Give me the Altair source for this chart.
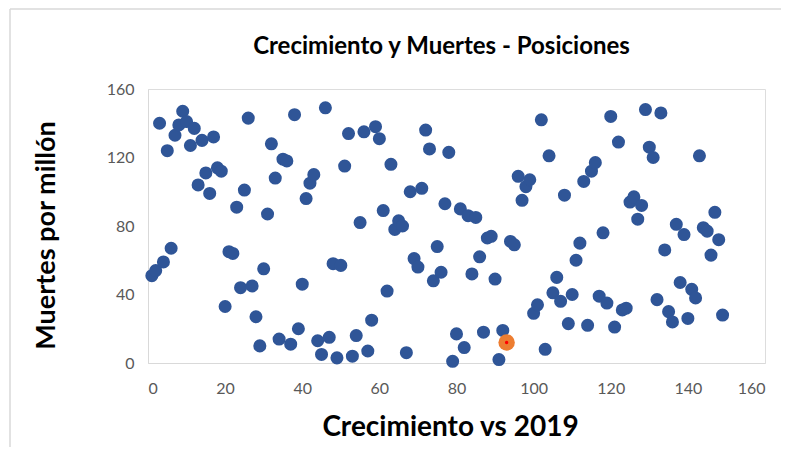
import altair as alt
import pandas as pd

crecimiento = list(range(1, 150))
muertes = [51, 54, 140, 59, 124, 67, 133, 139, 147, 141, 127, 137, 104, 130, 111, 99, 132, 114, 112, 33,
           65, 64, 91, 44, 101, 143, 45, 27, 10, 55, 87, 128, 108, 14, 119, 118, 11, 145, 20, 46,
           96, 105, 110, 13, 5, 149, 15, 58, 3, 57, 115, 134, 4, 16, 82, 135, 7, 25, 138, 131,
           89, 42, 116, 78, 83, 80, 6, 100, 61, 56, 102, 136, 125, 48, 68, 53, 93, 123, 1, 17,
           90, 9, 86, 52, 85, 62, 18, 73, 74, 49, 2, 19, 12, 71, 69, 109, 95, 103, 107, 29,
           34, 142, 8, 121, 41, 50, 36, 98, 23, 40, 60, 70, 106, 22, 112, 117, 39, 76, 35, 144,
           21, 129, 31, 32, 94, 97, 84, 92, 148, 126, 120, 37, 146, 66, 30, 24, 81, 47, 75, 26,
           43, 38, 121, 79, 77, 63, 88, 72, 28]
highlight_x = [93]
highlight_y = [12]

df = pd.DataFrame({"x": crecimiento, "y": muertes})
df = df[df["x"] != highlight_x[0]]
hl = pd.DataFrame({"x": highlight_x, "y": highlight_y})

FONT = "Lato"

xs = alt.Scale(domain=[0, 160], nice=False)
ys = alt.Scale(domain=[0, 160], nice=False)

xaxis = alt.Axis(values=list(range(0, 161, 20)), grid=False, ticks=False, domainColor="#D9D9D9",
                 labelColor="#595959", labelFontSize=16, labelFont=FONT, labelPadding=17,
                 title="Crecimiento vs 2019", titleFont=FONT, titleFontSize=28, titleFontWeight="bold",
                 titleColor="#000000", titlePadding=17, titleX=302)
yaxis = alt.Axis(values=list(range(0, 161, 20)), grid=False, ticks=False, domainColor="#D9D9D9",
                 labelColor="#595959", labelFontSize=16, labelFont=FONT, labelPadding=14,
                 title="Muertes por millón", titleFont=FONT, titleFontSize=27, titleFontWeight="bold",
                 titleColor="#000000", titlePadding=46, titleY=146)

one = pd.DataFrame({"a": [0]})
border_top = alt.Chart(one).mark_rule(stroke="#D9D9D9", strokeWidth=1.5, clip=False).encode(
    x=alt.value(-138), x2=alt.value(636), y=alt.value(-80))
border_left = alt.Chart(one).mark_rule(stroke="#D9D9D9", strokeWidth=1.5, clip=False).encode(
    x=alt.value(-138), y=alt.value(-80), y2=alt.value(367))

pts = alt.Chart(df).mark_circle(size=170, color="#2F5597", opacity=1).encode(
    x=alt.X("x:Q", scale=xs, axis=xaxis),
    y=alt.Y("y:Q", scale=ys, axis=yaxis),
)
hl_outer = alt.Chart(hl).mark_circle(size=270, color="#ED7D31", opacity=1).encode(
    x=alt.X("x:Q", scale=xs), y=alt.Y("y:Q", scale=ys))
hl_inner = alt.Chart(hl).mark_circle(size=12, color="#FF0000", opacity=1).encode(
    x=alt.X("x:Q", scale=xs), y=alt.Y("y:Q", scale=ys))

chart = alt.layer(border_top, border_left, pts, hl_outer, hl_inner).properties(
    width=617, height=274,
    title=alt.TitleParams("Crecimiento y Muertes - Posiciones", font=FONT, fontSize=24,
                          fontWeight="bold", color="#000000", anchor="middle", dx=-15, offset=-51),
    autosize=alt.AutoSizeParams(type="none"),
    padding={"left": 140, "top": 81, "right": 16, "bottom": 84},
).configure_view(strokeWidth=0, stroke="transparent").configure(background="white")

chart.save("out.html", embed_options={"renderer": "svg", "actions": False})
